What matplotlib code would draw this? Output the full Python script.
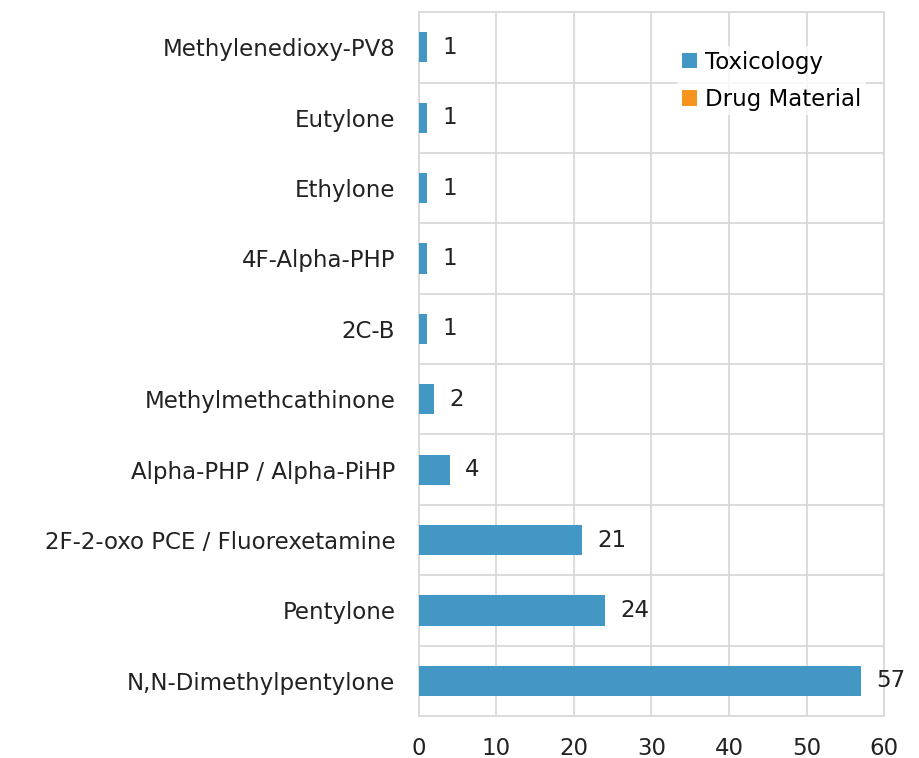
import matplotlib.pyplot as plt

plt.rcParams['font.family'] = ['DejaVu Sans']

# Data (bottom to top)
substances = ['N,N-Dimethylpentylone', 'Pentylone', '2F-2-oxo PCE / Fluorexetamine',
              'Alpha-PHP / Alpha-PiHP', 'Methylmethcathinone', '2C-B',
              '4F-Alpha-PHP', 'Ethylone', 'Eutylone', 'Methylenedioxy-PV8']
toxicology = [57, 24, 21, 4, 2, 1, 1, 1, 1, 1]
drug_material = [0, 0, 0, 0, 0, 0, 0, 0, 0, 0]

fig = plt.figure(figsize=(9.2, 7.58), dpi=100)
ax = fig.add_axes([0.4554, 0.0554, 0.5055, 0.9286])

pos = range(len(substances))
bars = ax.barh(pos, toxicology, height=0.43, color='#4397C4', label='Toxicology', zorder=3)
ax.barh(pos, drug_material, height=0.43, color='#F7941D', label='Drug Material', zorder=3)

for b, v in zip(bars, toxicology):
    ax.annotate(str(v), (b.get_width(), b.get_y() + b.get_height() / 2),
                xytext=(11, 0), textcoords='offset points', va='center', ha='left',
                fontsize=16.5, color='#222222')

ax.set_xlim(0, 60)
ax.set_ylim(-0.5, len(substances) - 0.5)
ax.set_xticks(range(0, 61, 10))
ax.set_yticks(list(pos))
ax.set_yticklabels(substances)
ax.set_yticks([i + 0.5 for i in range(len(substances) - 1)], minor=True)
ax.tick_params(axis='both', which='both', length=0, labelsize=16.5, colors='#222222')
ax.tick_params(axis='y', pad=17)
ax.tick_params(axis='x', pad=15)
ax.grid(axis='x', color='#d9d9d9', linewidth=1.3, zorder=0)
ax.grid(axis='y', which='minor', color='#d9d9d9', linewidth=1.3, zorder=0)
for s in ax.spines.values():
    s.set_color('#d9d9d9')
    s.set_linewidth(1.3)

ax.legend(loc='upper right', bbox_to_anchor=(0.985, 0.968), frameon=True, edgecolor='none',
          fontsize=16.5, handlelength=0.65, handleheight=0.65, handletextpad=0.35,
          labelspacing=0.62, borderpad=0.2, fancybox=False)

plt.savefig('out.png', dpi=100)
